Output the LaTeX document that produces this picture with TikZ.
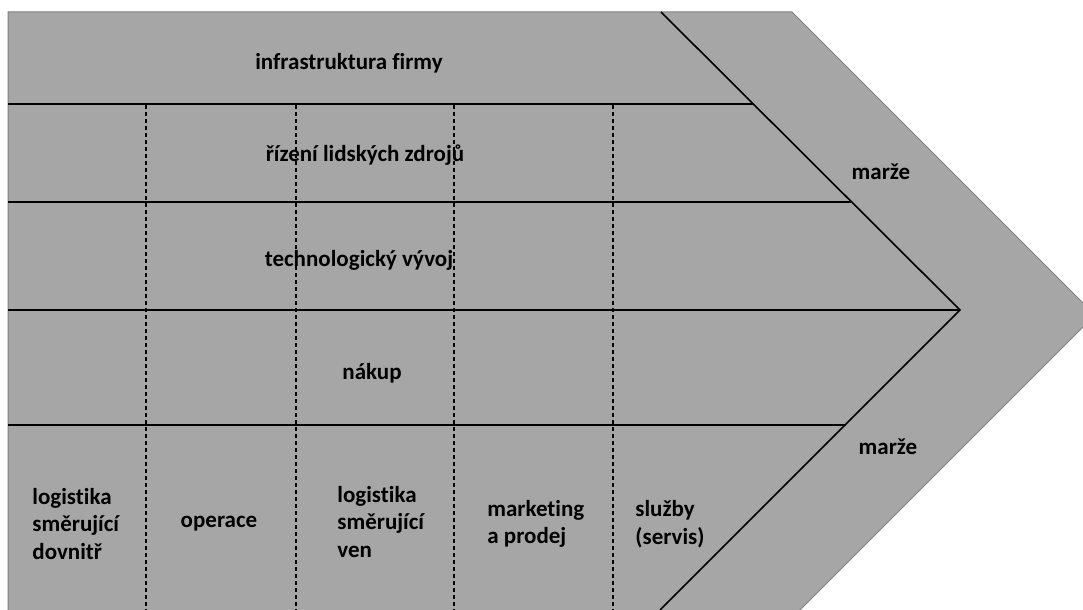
\documentclass[tikz,border=0pt]{standalone}
\usepackage{fontspec}
\setmainfont{Carlito}[Ligatures=NoCommon]
\usetikzlibrary{positioning}
\definecolor{chaingray}{RGB}{166,166,166}
\definecolor{edgegray}{RGB}{128,128,128}

\begin{document}
\begin{tikzpicture}[x=0.5pt,y=-0.5pt,
  every node/.style={font=\fontsize{11.5}{13.75}\selectfont\bfseries,inner sep=0pt},
  rowline/.style={black,line width=0.8pt},
  colline/.style={black,line width=0.55pt,dash pattern=on 2pt off 1.5pt}]
  \useasboundingbox (0,0) rectangle (1083,610);
  \clip (0,0) rectangle (1083,610);
  % outer chain shape
  \draw[fill=chaingray,draw=edgegray,line width=0.5pt] (8,640) -- (8,12) -- (792,12) -- (1095,315) -- (770,640);
  % margin boundary
  \coordinate (mtop) at (661,12); \coordinate (mtip) at (960,310); \coordinate (mbot) at (660,610);
  \coordinate (r1) at (8,104); \coordinate (r1e) at (753,104);
  \coordinate (r2) at (8,202); \coordinate (r2e) at (851,202);
  \coordinate (r3) at (8,310);
  \coordinate (r4) at (8,425); \coordinate (r4e) at (846,425);
  % labels
  \node (infra) at (349,63) {infrastruktura firmy};
  \node (hr) at (365,155) {řízení lidských zdrojů};
  \node (tech) at (359,260) {technologický vývoj};
  \node (nakup) at (372,373) {nákup};
  \node (marze1) at (881,172) {marže};
  \node (marze2) at (888,447) {marže};
  \node[anchor=west,align=left] (inlog) at (32,524) {logistika\\směrující\\dovnitř};
  \node (oper) at (219,524) {operace};
  \node[anchor=west,align=left] (outlog) at (337,522) {logistika\\směrující\\ven};
  \node[anchor=west,align=left] (mkt) at (487,524) {marketing\\a prodej};
  \node[anchor=west,align=left] (serv) at (635,524) {služby\\(servis)};
  % lines
  \draw[rowline] (mtop) -- (mtip) -- (mbot);
  \draw[rowline] (r1) -- (r1e);
  \draw[rowline] (r2) -- (r2e);
  \draw[rowline] (r3) -- (mtip);
  \draw[rowline] (r4) -- (r4e);
  \foreach \cx in {146,296,454,613}
    \draw[colline] (\cx,105) -- (\cx,612);
\end{tikzpicture}
\end{document}
